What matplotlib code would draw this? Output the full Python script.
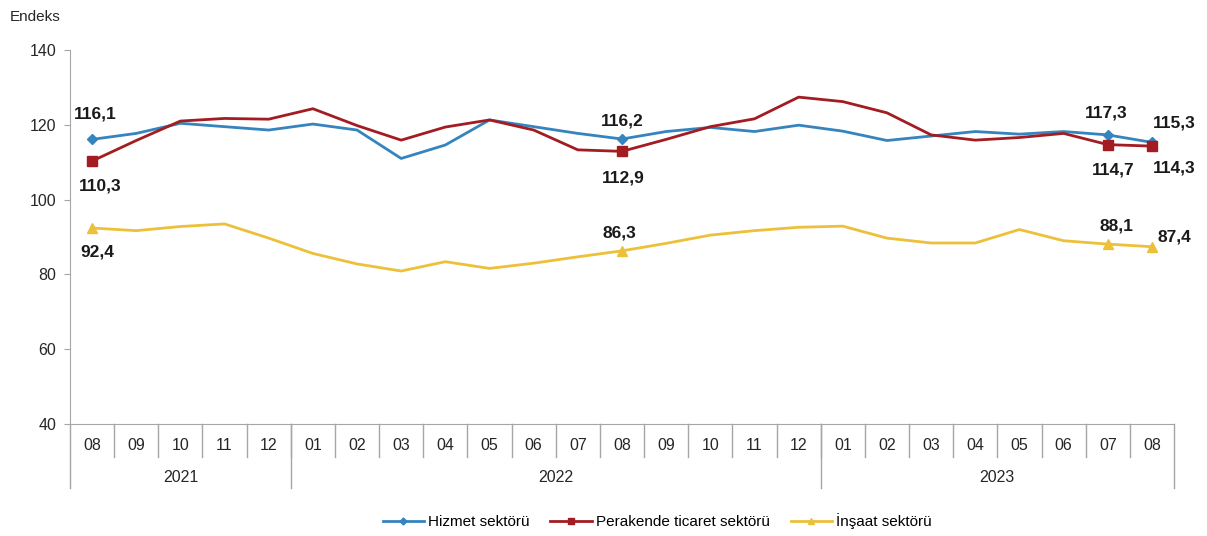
import matplotlib.pyplot as plt
import matplotlib.lines as mlines

plt.rcParams['font.family'] = ['Liberation Sans', 'DejaVu Sans']

# === Veri ===
months = ["08", "09", "10", "11", "12",
          "01", "02", "03", "04", "05", "06", "07", "08", "09", "10", "11", "12",
          "01", "02", "03", "04", "05", "06", "07", "08"]
years = ["2021", "2022", "2023"]
year_counts = [5, 12, 8]

hizmet = [116.1, 117.7, 120.4, 119.5, 118.6, 120.2, 118.6, 111.0, 114.6, 121.3,
          119.5, 117.7, 116.2, 118.2, 119.3, 118.2, 119.9, 118.3, 115.8, 117.0,
          118.2, 117.5, 118.2, 117.3, 115.3]
perakende = [110.3, 115.8, 121.0, 121.7, 121.5, 124.3, 119.8, 115.9, 119.4, 121.3,
             118.6, 113.3, 112.9, 116.1, 119.5, 121.6, 127.4, 126.2, 123.2, 117.3,
             115.9, 116.6, 117.7, 114.7, 114.3]
insaat = [92.4, 91.7, 92.8, 93.5, 89.7, 85.6, 82.8, 80.9, 83.4, 81.6,
          83.0, 84.7, 86.3, 88.3, 90.5, 91.7, 92.6, 92.9, 89.7, 88.4,
          88.4, 92.0, 89.0, 88.1, 87.4]

labeled_idx = [0, 12, 23, 24]

c_blue = "#3584BD"
c_red = "#A31C21"
c_yel = "#EDC03A"
c_grid = "#A6A6A6"

fig = plt.figure(figsize=(12.07, 5.36), dpi=100)
ax = fig.add_axes([70 / 1207, 1 - 424 / 536, (1174 - 70) / 1207, 374 / 536])

x = list(range(len(months)))
ax.plot(x, hizmet, color=c_blue, lw=2)
ax.plot(x, perakende, color=c_red, lw=2)
ax.plot(x, insaat, color=c_yel, lw=2)
ax.plot([x[i] for i in labeled_idx], [hizmet[i] for i in labeled_idx], ls="none",
        marker="D", ms=5, color=c_blue)
ax.plot([x[i] for i in labeled_idx], [perakende[i] for i in labeled_idx], ls="none",
        marker="s", ms=7, color=c_red)
ax.plot([x[i] for i in labeled_idx], [insaat[i] for i in labeled_idx], ls="none",
        marker="^", ms=7, color=c_yel)

ax.set_xlim(-0.5, len(months) - 0.5)
ax.set_ylim(40, 140)
ax.set_yticks(range(40, 141, 20))
ax.tick_params(axis="y", labelsize=11.5, colors="#262626", length=4, color=c_grid, pad=6)
ax.tick_params(axis="x", length=0, labelbottom=False)
for s in ["top", "right"]:
    ax.spines[s].set_visible(False)
for s in ["left", "bottom"]:
    ax.spines[s].set_color(c_grid)

# === Eksen etiketleri (ay / yil) ===
tr = ax.get_xaxis_transform()
for i, m in enumerate(months):
    ax.text(i, -0.058, m, transform=tr, ha="center", va="center", fontsize=11.5, color="#262626")
for b in range(1, len(months)):
    ax.plot([b - 0.5, b - 0.5], [0, -0.088], transform=tr, color=c_grid, lw=1, clip_on=False)
start = 0
bounds = [-0.5]
for yname, cnt in zip(years, year_counts):
    ax.text(start + (cnt - 1) / 2, -0.142, yname, transform=tr, ha="center", va="center",
            fontsize=11.5, color="#262626")
    start += cnt
    bounds.append(start - 0.5)
for b in bounds:
    ax.plot([b, b], [0, -0.171], transform=tr, color=c_grid, lw=1, clip_on=False)

# === Veri etiketleri ===
lab = dict(fontsize=12.5, fontweight="bold", color="#1a1a1a", ha="center", va="center")
def fmt(v):
    return f"{v:.1f}".replace(".", ",")
ax.annotate(fmt(hizmet[0]), (0, hizmet[0]), xytext=(2, 18), textcoords="offset points", **lab)
ax.annotate(fmt(perakende[0]), (0, perakende[0]), xytext=(6, -18), textcoords="offset points", **lab)
ax.annotate(fmt(insaat[0]), (0, insaat[0]), xytext=(4, -17), textcoords="offset points", **lab)
ax.annotate(fmt(hizmet[12]), (12, hizmet[12]), xytext=(0, 13), textcoords="offset points", **lab)
ax.annotate(fmt(perakende[12]), (12, perakende[12]), xytext=(1, -19), textcoords="offset points", **lab)
ax.annotate(fmt(insaat[12]), (12, insaat[12]), xytext=(-2, 13), textcoords="offset points", **lab)
ax.annotate(fmt(hizmet[23]), (23, hizmet[23]), xytext=(-1, 16), textcoords="offset points", **lab)
ax.annotate(fmt(perakende[23]), (23, perakende[23]), xytext=(4, -18), textcoords="offset points", **lab)
ax.annotate(fmt(insaat[23]), (23, insaat[23]), xytext=(6, 13), textcoords="offset points", **lab)
ax.annotate(fmt(hizmet[24]), (24, hizmet[24]), xytext=(16, 14), textcoords="offset points", **lab)
ax.annotate(fmt(perakende[24]), (24, perakende[24]), xytext=(16, -16), textcoords="offset points", **lab)
ax.annotate(fmt(insaat[24]), (24, insaat[24]), xytext=(16, 7), textcoords="offset points", **lab)

fig.text(10 / 1207, 1 - 17 / 536, "Endeks", fontsize=11, color="#262626", va="center", ha="left")

# === Legend ===
handles = [
    mlines.Line2D([], [], color=c_blue, lw=2, marker="D", ms=3.5),
    mlines.Line2D([], [], color=c_red, lw=2, marker="s", ms=4.5),
    mlines.Line2D([], [], color=c_yel, lw=2, marker="^", ms=4.5),
]
fig.legend(handles, ["Hizmet sektörü", "Perakende ticaret sektörü", "İnşaat sektörü"],
           loc="center", bbox_to_anchor=(657 / 1207, 1 - 521 / 536), ncol=3, frameon=False,
           fontsize=11, handlelength=2.7, handletextpad=0.25, columnspacing=1.4)

fig.savefig("out.png", dpi=100)
